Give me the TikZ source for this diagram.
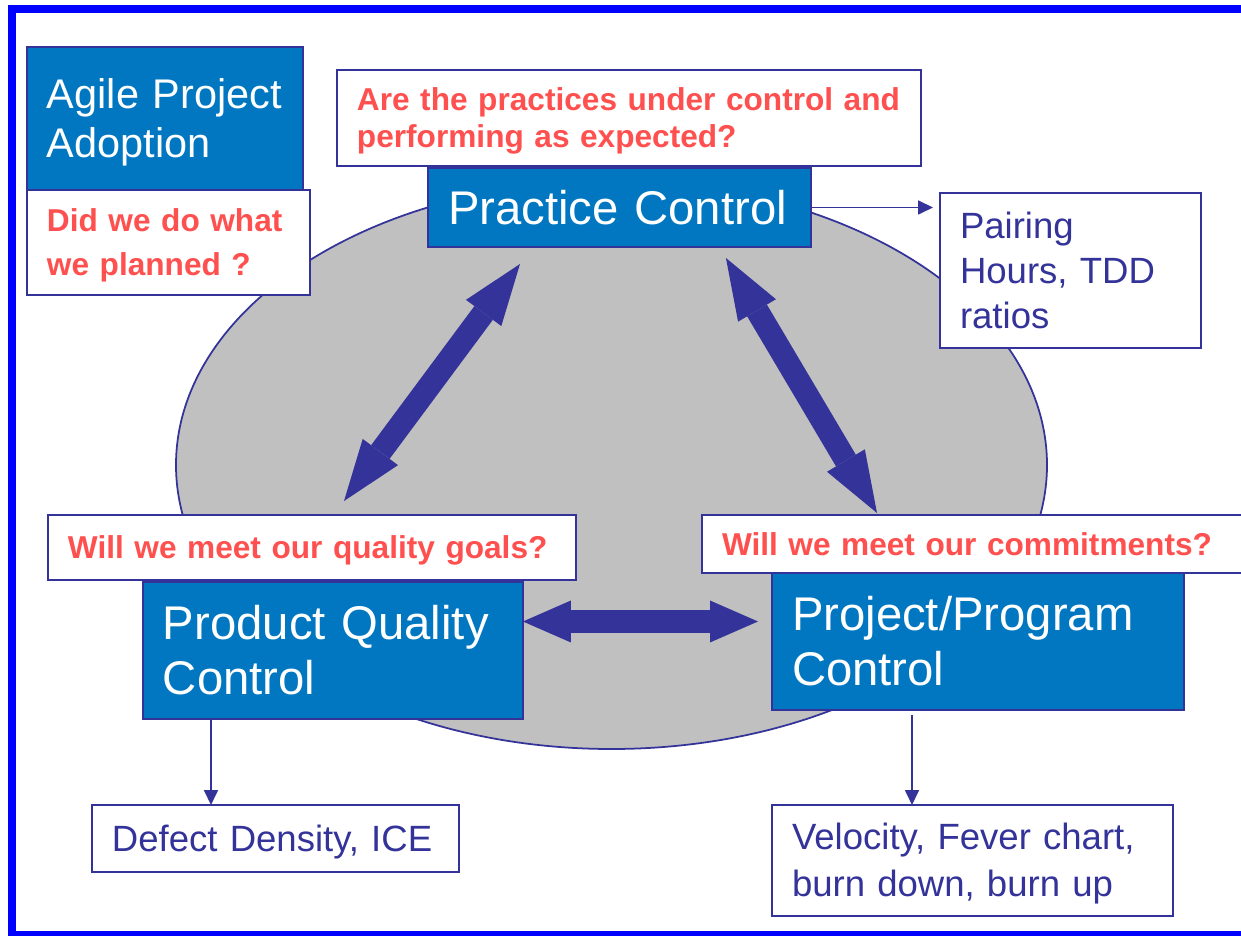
\documentclass[tikz,border=0pt]{standalone}
\usepackage{fontspec}
\setmainfont{Liberation Sans}
\usetikzlibrary{arrows.meta}

\definecolor{navy}{HTML}{333399}
\definecolor{boxblue}{HTML}{0077C0}
\definecolor{askred}{HTML}{FF5050}
\definecolor{ovalgray}{HTML}{C0C0C0}
\definecolor{frameblue}{HTML}{0000FF}

\begin{document}
\begin{tikzpicture}[x=0.02cm, y=-0.02cm]
\tikzset{ inner ysep=0pt, outer sep=0pt,
  slidetext/.style={anchor=north west, inner xsep=0.4cm, align=left,
    execute at begin node={\rule[-0.21em]{0pt}{1.12em}},
    execute at end node={\rule[-0.21em]{0pt}{0pt}}},
  ctrlbox/.style={slidetext, draw=navy, line width=1pt, fill=boxblue, text=white,
    font=\fontsize{26.9}{31.8}\selectfont},
  askbox/.style={slidetext, draw=navy, line width=1pt, fill=white, text=askred,
    font=\bfseries\fontsize{18}{21.5}\selectfont},
  metricbox/.style={slidetext, draw=navy, line width=1pt, fill=white, text=navy,
    font=\fontsize{20.8}{26}\selectfont},
  feed/.style={navy, line width=1pt, -{Triangle[length=0.3cm, width=0.28cm]}},
  bigarrow/.style={navy, line width=0.46cm,
    {Triangle[length=1.22cm, width=0.88cm, line width=0pt]}-{Triangle[length=1.22cm, width=0.88cm, line width=0pt]}},
  flatarrow/.style={navy, line width=0.46cm,
    {Triangle[length=0.96cm, width=0.84cm, line width=0pt]}-{Triangle[length=0.96cm, width=0.84cm, line width=0pt]}},
}

\useasboundingbox (0,0) rectangle (1241,936);

% frame
\draw [frameblue, line width=0.16cm] (1260,9) -- (12,9) -- (12,935) -- (1260,935);

% oval
\draw [navy, line width=1pt, fill=ovalgray] (611.5,465) ellipse [x radius=435.5, y radius=284];

% adoption
\node [ctrlbox, text width=4.72cm, minimum height=2.86cm, font=\fontsize{23.6}{28.3}\selectfont]
  (agile) at (27,47) {Agile Project\\Adoption};
\node [askbox, text width=4.86cm, minimum height=2.10cm, font=\bfseries\fontsize{18}{25.5}\selectfont]
  (did) at (27,190) {Did we do what\\we planned ?};

% practice
\node [askbox, text width=10.88cm, minimum height=1.92cm]
  (areq) at (337,70) {Are the practices under control and\\performing as expected?};
\node [ctrlbox, text width=6.86cm, minimum height=1.58cm]
  (pc) at (428,168) {Practice Control};
\node [metricbox, text width=4.42cm, minimum height=3.10cm, font=\fontsize{20.8}{25.5}\selectfont]
  (pair) at (940,193) {Pairing\\Hours, TDD\\ratios};

% quality
\node [askbox, text width=9.76cm, minimum height=1.30cm]
  (qgoal) at (48,515) {Will we meet our quality goals?};
\node [ctrlbox, text width=6.80cm, minimum height=2.74cm]
  (pqc) at (143,582) {Product Quality\\Control};
\node [metricbox, text width=6.54cm, minimum height=1.34cm]
  (defect) at (92,805) {Defect Density, ICE};

% program
\node [askbox, text width=10.40cm, minimum height=1.16cm]
  (commit) at (702,515) {Will we meet our commitments?};
\node [ctrlbox, text width=7.44cm, minimum height=2.74cm]
  (ppc) at (772,573) {Project/Program\\Control};
\node [metricbox, text width=7.22cm, minimum height=2.22cm, font=\fontsize{20.8}{26.6}\selectfont]
  (velocity) at (772,805) {Velocity, Fever chart,\\burn down, burn up};

% metrics
\coordinate (qdrop) at ([xshift=1.36cm]pqc.south west);
\coordinate (pdrop) at ([shift={(140,5)}]ppc.south west);
\draw [feed, shorten >=0.14cm] (pc.east) -- (pc.east -| pair.west);
\draw [feed] (qdrop) -- (qdrop |- defect.north);
\draw [feed] (pdrop) -- (pdrop |- velocity.north);

% control loop
\draw [bigarrow] ([shift={(296,-14)}]qgoal.north west) -- ([shift={(92,17)}]pc.south west);
\draw [bigarrow] ([shift={(-85,11)}]pc.south east) -- ([shift={(175,-2)}]commit.north west);
\draw [flatarrow] ([shift={(0,-29)}]pqc.east) -- ([shift={(-14,-20)}]ppc.west);

\end{tikzpicture}
\end{document}
